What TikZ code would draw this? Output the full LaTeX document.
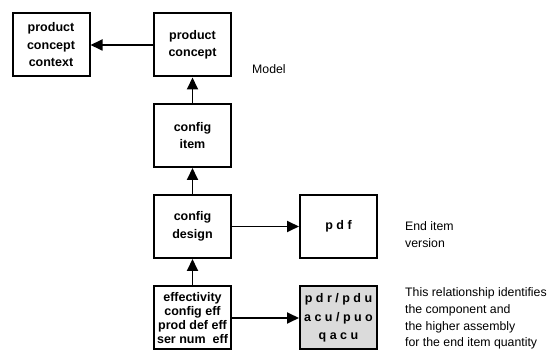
\documentclass[tikz,border=0pt]{standalone}
\usepackage{fontspec}
\setmainfont{Liberation Sans}
\usetikzlibrary{arrows.meta}
\begin{document}
\begin{tikzpicture}[x=1pt,y=-1pt,
  box/.style={draw, line width=2pt, minimum width=77pt, minimum height=63pt,
    align=center, inner sep=0pt, font=\bfseries\fontsize{12.5}{17.5}\selectfont},
  effbox/.style={box, font=\bfseries\fontsize{12.5}{14.3}\selectfont},
  graybox/.style={box, fill=black!14, font=\bfseries\fontsize{12.5}{18.5}\selectfont},
  conn/.style={line width=1.8pt, -{Triangle[length=12pt,width=11pt]}},
  note/.style={anchor=base west, inner sep=0pt, align=left, font=\fontsize{12.3}{16.6}\selectfont}]
\useasboundingbox (0,0) rectangle (547,352);
\node[box] (pcc) at (51,45) {product\\concept\\context};
\node[box] (pc) at (192.5,45) {product\\concept};
\node[box] (ci) at (192.5,135.5) {config\\item};
\node[box] (cd) at (192.5,226.5) {config\\design};
\node[effbox] (eff) at (192.5,318) {effectivity\\config eff\\prod def eff\\ser num\ \ eff};
\node[box] (pdf) at (338.5,226.5) {p d f};
\node[graybox] (pdr) at (338.5,318) {p d r / p d u\\a c u / p u o\\q a c u};
\node[note] (model) at (252,74) {Model};
\node[note, font=\fontsize{12.3}{17}\selectfont] (endv) at (405,247.7) {End item\\version};
\node[note] (rel) at (405,346.7) {This relationship identifies\\the component and\\the higher assembly\\for the end item quantity};
\draw[conn] (pc) -- (pcc);
\draw[conn] (ci) -- (pc);
\draw[conn] (cd) -- (ci);
\draw[conn] (eff) -- (cd);
\draw[conn] (cd) -- (pdf);
\draw[conn] (eff) -- (pdr);
\end{tikzpicture}
\end{document}
